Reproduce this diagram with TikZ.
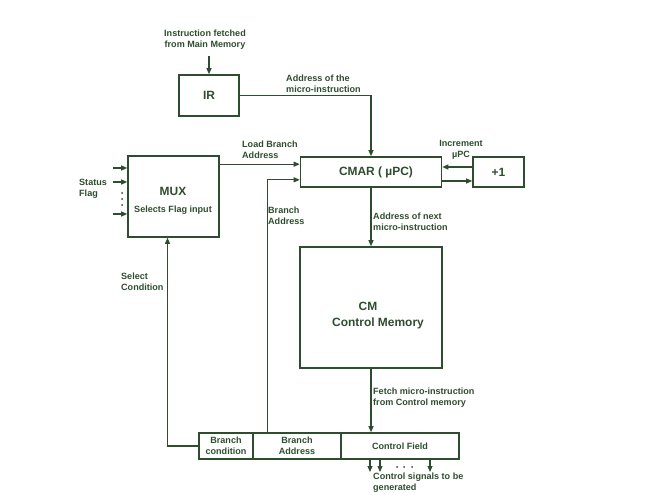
\documentclass[tikz,border=0pt]{standalone}
\usepackage{fontspec}
\setmainfont{Liberation Sans}
\usetikzlibrary{arrows.meta,calc}
\definecolor{dg}{HTML}{2E4D2E}
\begin{document}
\begin{tikzpicture}[x=1bp,y=-1bp,
  every node/.style={text=dg},
  box/.style={draw=dg,line width=1.6bp,inner sep=0pt},
  big/.style={font=\fontsize{12}{14}\selectfont\bfseries},
  sm/.style={font=\fontsize{9.1}{11}\selectfont\bfseries,inner sep=0pt},
  lbl/.style={sm,align=left,anchor=west},
  line/.style={draw=dg,line width=1.1bp},
  arr/.style={line,-{Triangle[length=6bp,width=5bp]}},
  dotc/.style={fill=dg,draw=none,circle,inner sep=0pt,minimum size=2bp}]
\fill[white] (0,0) rectangle (660,495);
\useasboundingbox (0,0) rectangle (660,495);

% boxes
\node[box,big,minimum width=60bp,minimum height=41bp] (ir) at (209,95.5) {IR};
\node[box,big,minimum width=141bp,minimum height=30bp] (cmar) at (371,172) {\hspace{10bp}CMAR ( µPC)};
\node[box,big,minimum width=51bp,minimum height=30bp] (plus) at (498.5,172) {+1};
\node[box,minimum width=91bp,minimum height=81bp] (mux) at (173.5,196.5) {};
\node[big] (muxt) at (173,191) {MUX};
\node[sm] (muxs) at (173,210) {Selects Flag input};
\node[box,minimum width=142bp,minimum height=121bp] (cm) at (371,307.5) {};
\node[big] (cmt) at (368,306) {CM};
\node[big] (cmt2) at (378,323) {Control Memory};

% register
\node[box,sm,align=center,minimum width=54bp,minimum height=26bp] (bc) at (226,446) {Branch\\condition};
\node[box,sm,align=center,minimum width=88bp,minimum height=26bp] (ba) at (297,446) {Branch\\Address};
\node[box,sm,align=center,minimum width=118bp,minimum height=26bp] (cf) at (400,446) {Control Field};

% labels
\node[sm,align=center] (l1) at (205,39.5) {Instruction fetched\\from Main Memory};
\node[lbl] (l2) at (286,83.5) {Address of the\\micro-instruction};
\node[lbl] (l3) at (242,149.5) {Load Branch\\Address};
\node[sm,align=center] (l4) at (461,149.5) {Increment\\µPC};
\node[lbl] (l5) at (79,188.5) {Status\\Flag};
\node[lbl] (l6) at (268,215.5) {Branch\\Address};
\node[lbl] (l7) at (373,221.5) {Address of next\\micro-instruction};
\node[lbl] (l8) at (121,281.5) {Select\\Condition};
\node[lbl] (l9) at (373,397.5) {Fetch micro-instruction\\from Control memory};
\node[lbl] (l10) at (373,482.5) {Control signals to be\\generated};

% connectors
\coordinate (irin) at (209,56);
\draw[arr] (irin) -- (ir.north);
\draw[arr] (ir.east) -| (cmar.north);
\coordinate (m1) at ($(mux.north east)+(0,9)$);
\draw[arr] (m1) -- (m1 -| cmar.west);
\coordinate (b1) at ($(ba.north west)+(15,0)$);
\coordinate (b2) at ($(cmar.south west)+(0,-8)$);
\draw[arr] (b1) |- (b2);
\coordinate (s1) at ($(mux.south)+(-6,0)$);
\draw[arr] (bc.west) -| (s1);
\draw[arr] (cmar.south) -- (cm.north);
\draw[arr] (cm.south) -- (cm.south |- cf.north);
\coordinate (p1) at ($(plus.west)+(0,-5)$);
\draw[arr] (p1) -- (p1 -| cmar.east);
\coordinate (p2) at ($(cmar.east)+(0,9)$);
\draw[arr] (p2) -- (p2 -| plus.west);

% status flag inputs
\foreach \y/\n in {168/a,182/b,214/c}{
  \coordinate (sf\n) at (113,\y);
  \draw[arr] (sf\n) -- (sf\n -| mux.west);
}
\foreach \y [count=\i] in {193,199,205}{ \node[dotc] (sd\i) at (122,\y) {}; }

% control signals
\foreach \x/\n in {370/a,380/b,430/c}{
  \coordinate (cs\n) at (\x,472);
  \draw[arr] (cs\n |- cf.south) -- (cs\n);
}
\foreach \x [count=\i] in {397,404,412}{ \node[dotc] (cd\i) at (\x,467) {}; }
\end{tikzpicture}
\end{document}
